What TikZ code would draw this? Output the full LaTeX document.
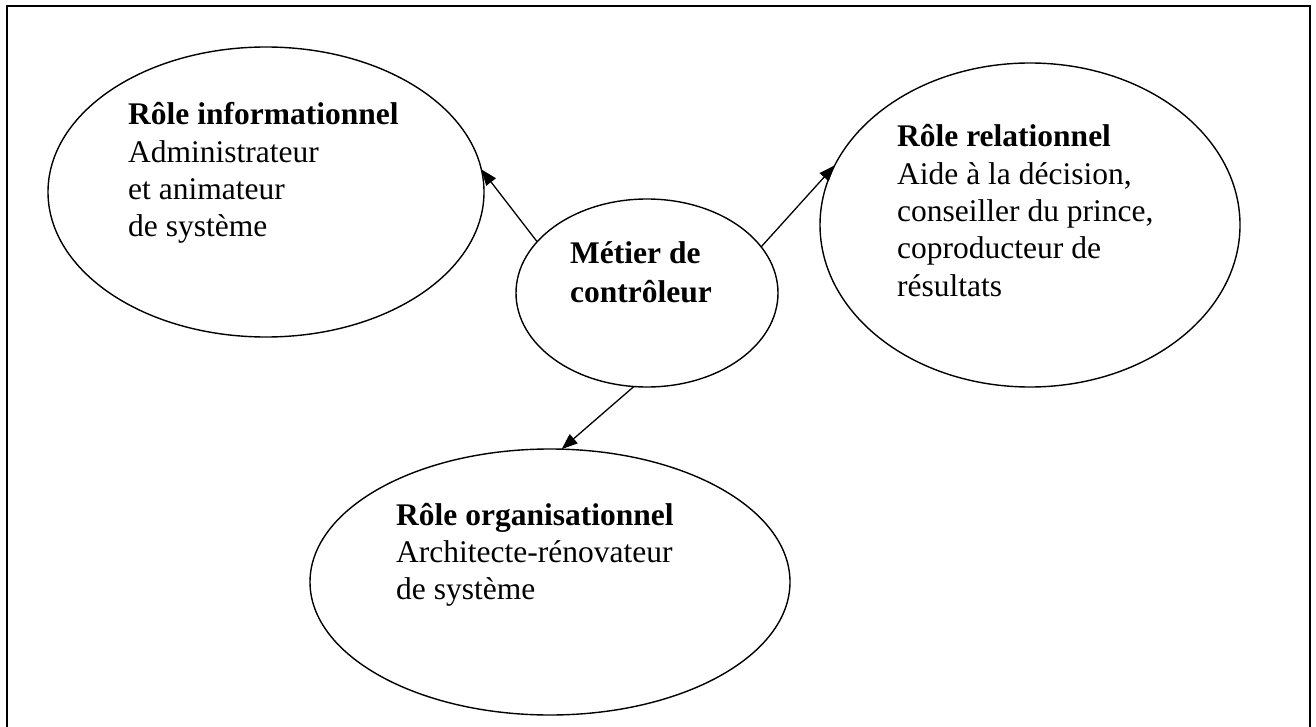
\documentclass[tikz,border=0pt]{standalone}
\usepackage{fontspec}
\setmainfont{Liberation Serif}
\usetikzlibrary{shapes.geometric,arrows.meta}
\begin{document}
\begin{tikzpicture}[x=1pt,y=-1pt,
  bubble/.style={ellipse,draw,line width=1.4pt,inner sep=0pt,outer sep=0pt},
  caption/.style={anchor=base west,inner sep=0pt,
    font=\fontsize{31.5}{37.3}\selectfont},
  arr/.style={line width=1.3pt,-{Triangle[length=16pt,width=12pt]}}]
  \useasboundingbox (0,0) rectangle (1316,727);
  \clip (0,0) rectangle (1316,727);
  % outer frame (open at the bottom edge of the page)
  \draw[line width=2pt] (7,740) -- (7,6) -- (1310,6) -- (1310,740);

  % the four bubbles
  \node[bubble,minimum width=436pt,minimum height=290pt] (inf) at (266,192) {};
  \node[bubble,minimum width=262pt,minimum height=188pt] (ctl) at (647,293) {};
  \node[bubble,minimum width=420pt,minimum height=324pt] (rel) at (1030,225) {};
  \node[bubble,minimum width=480pt,minimum height=266pt] (org) at (550,582) {};

  % texts
  \node[caption] (infT) at (128,125) {\vtop{\hbox{\textbf{Rôle informationnel}}
    \hbox{Administrateur}\hbox{et animateur}\hbox{de système}}};
  \node[caption] (ctlT) at (570,264) {\vtop{\baselineskip=38pt
    \hbox{\textbf{Métier de}}\hbox{\textbf{contrôleur}}}};
  \node[caption] (relT) at (897,147) {\vtop{\hbox{\textbf{Rôle relationnel}}
    \hbox{Aide à la décision,}\hbox{conseiller du prince,}
    \hbox{coproducteur de}\hbox{résultats}}};
  \node[caption] (orgT) at (396,525) {\vtop{\hbox{\textbf{Rôle organisationnel}}
    \hbox{Architecte-rénovateur}\hbox{de système}}};

  % connectors
  \draw[arr] (ctl.155.6) -- (inf.6.3);
  \draw[arr] (ctl.22.8) -- (rel.163.6);
  \draw[arr] (ctl.262.7) -- (org.85.7);
\end{tikzpicture}
\end{document}
